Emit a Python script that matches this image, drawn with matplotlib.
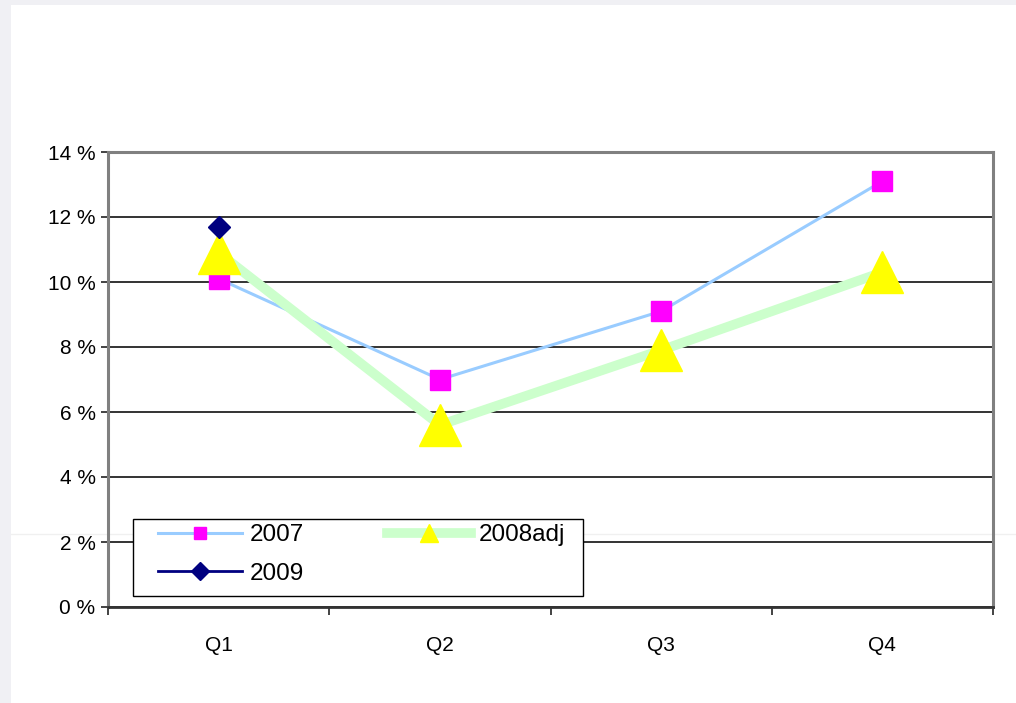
import numpy as np
import matplotlib.pyplot as plt
from matplotlib.lines import Line2D
from matplotlib.patches import Rectangle
from matplotlib.ticker import FixedLocator, FuncFormatter

plt.rcParams['font.family'] = ['Liberation Sans', 'DejaVu Sans']

quarters = ['Q1', 'Q2', 'Q3', 'Q4']
s2007 = [10.1, 7.0, 9.1, 13.1]
s2008adj = [10.9, 5.6, 7.9, 10.3]
s2009 = [11.7]

W, H = 1016, 703
fig = plt.figure(figsize=(W / 100, H / 100), dpi=100)
fig.patch.set_facecolor('#f0f0f4')
# white page area with thin grey strip at the top and left
fig.add_artist(Rectangle((11 / W, 0), 1, 1 - 5 / H, transform=fig.transFigure,
                         facecolor='white', edgecolor='none', zorder=-10))
fig.add_artist(Line2D([11 / W, 1], [1 - 534 / H] * 2, transform=fig.transFigure,
                      color='#f0f0f0', lw=1, zorder=-5))

ax = fig.add_axes([108 / W, 1 - 607 / H, (993 - 108) / W, (607 - 152) / H])
ax.set_facecolor('none')

x = np.arange(len(quarters))
l07, = ax.plot(x, s2007, color='#99ccff', lw=2.2, marker='s', ms=14,
               mfc='#ff00ff', mec='#ff00ff', label='2007', zorder=3)
l08, = ax.plot(x, s2008adj, color='#ccffcc', lw=7, marker='^', ms=30,
               mfc='#ffff00', mec='#ffff00', label='2008adj', zorder=4)
l09, = ax.plot(x[:len(s2009)], s2009, color='#000080', lw=2, marker='D', ms=11.5,
               mfc='#000080', mec='#000080', label='2009', zorder=5)

ax.set_xlim(-0.5, 3.5)
ax.set_ylim(0, 14)
ax.set_yticks(np.arange(0, 15, 2))
ax.yaxis.set_major_formatter(FuncFormatter(lambda v, p: f'{v:.0f} %'))
ax.grid(axis='y', color='#111111', lw=1.2, zorder=1)
ax.set_axisbelow(True)

# category labels centred, tick marks on the category boundaries
ax.xaxis.set_major_locator(FixedLocator(np.arange(-0.5, 4, 1)))
ax.xaxis.set_minor_locator(FixedLocator(x))
ax.set_xticklabels([])
ax.set_xticklabels(quarters, minor=True)
ax.tick_params(axis='x', which='major', length=6, width=1.2, color='#222222')
ax.tick_params(axis='x', which='minor', length=0, pad=21, labelsize=15)
ax.tick_params(axis='y', length=5, width=1.2, color='#222222', pad=4, labelsize=15)

for side in ['left', 'top', 'right']:
    ax.spines[side].set_color('#808080')
    ax.spines[side].set_linewidth(2.2)
ax.spines['bottom'].set_color('#333333')
ax.spines['bottom'].set_linewidth(2)

# legend box drawn separately so its size can be set freely
ax.add_patch(Rectangle((133 / W, 1 - 596 / H), (583 - 133) / W, (596 - 519) / H,
                       transform=fig.transFigure, facecolor='white',
                       edgecolor='black', lw=1, zorder=6, clip_on=False))

# ncol=2 fills by column, so order handles to read 2007, 2008adj / 2009
leg = ax.legend([l07, l09, l08], ['2007', '2009', '2008adj'], ncol=2,
                loc='upper left', bbox_to_anchor=(158 / W, 1 - 524 / H),
                bbox_transform=fig.transFigure,
                fontsize=17.5, frameon=False,
                handlelength=3.45, handletextpad=0.33, columnspacing=3.4,
                borderpad=0, borderaxespad=0, labelspacing=0.69)
leg.set_zorder(7)
for h, ms in zip(leg.legend_handles, [9, 9, 13]):
    h.set_markersize(ms)

fig.savefig('out.png', dpi=100)
